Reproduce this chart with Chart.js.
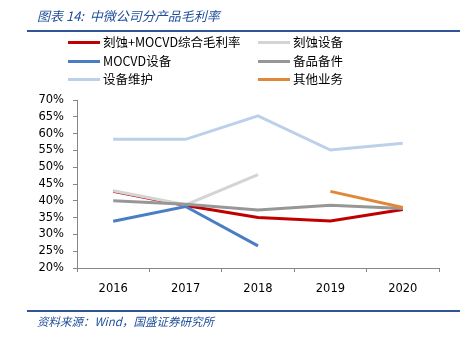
<!DOCTYPE html>
<html>
<head>
<meta charset="utf-8">
<script src="https://cdn.jsdelivr.net/npm/chart.js@4/dist/chart.umd.min.js"></script>
<style>
  body { margin: 0; width: 464px; height: 340px; background: #fff; position: relative; overflow: hidden;
         font-family: "Noto Sans CJK SC", "DejaVu Sans", sans-serif; }
  #title { position: absolute; left: 37px; top: 6px; font-size: 13px; font-style: italic; color: #1F4E9A; }
  .rule { position: absolute; left: 27px; width: 433px; height: 2px; background: #2F5597; }
  #legend { position: absolute; left: 68px; top: 33px; }
  .item { position: absolute; white-space: nowrap; font-size: 12.5px; color: #000; line-height: 18px; }
  .item span { display: inline-block; width: 32px; height: 3px; vertical-align: middle; margin-right: 3px; margin-top: -2px; }
  #source { position: absolute; left: 37px; top: 313px; font-size: 11.5px; font-style: italic; color: #1F4E9A; }
  #chart { position: absolute; left: 0; top: 0; }
</style>
</head>
<body>
<canvas id="chart" width="464" height="340"></canvas>
<div id="title">图表 14:&nbsp; 中微公司分产品毛利率</div>
<div class="rule" style="top:30px"></div>
<div id="legend"></div>
<div class="rule" style="top:310px"></div>
<div id="source">资料来源：Wind，国盛证券研究所</div>
<script>
// data (gross margin, %)
let years = ['2016', '2017', '2018', '2019', '2020'];
let combined = [42.8, 38.6, 35.0, 34.0, 37.4];
let etching = [43.0, 38.8, 47.8, null, null];
let mocvd = [33.9, 38.3, 26.6, null, null];
let parts = [40.0, 39.0, 37.3, 38.7, 37.7];
let service = [58.3, 58.3, 65.3, 55.1, 57.1];
let other = [null, null, null, 42.8, 38.0];
let seriesNames = ['刻蚀+MOCVD综合毛利率', '刻蚀设备', 'MOCVD设备', '备品备件', '设备维护', '其他业务'];
let seriesColors = ['#C00000', '#D4D4D4', '#4A7EC4', '#979797', '#BDD0EA', '#E0883A'];

let seriesData = [combined, etching, mocvd, parts, service, other];

// legend: two columns, three rows
let legend = document.getElementById('legend');
seriesNames.forEach((name, i) => {
    let div = document.createElement('div');
    div.className = 'item';
    div.style.left = (i % 2 === 0 ? 0 : 190) + 'px';
    div.style.top = (Math.floor(i / 2) * 18.5) + 'px';
    div.innerHTML = '<span style="background:' + seriesColors[i] + '"></span>' + name;
    legend.appendChild(div);
});

let ctx = document.getElementById('chart').getContext('2d');
let myChart = new Chart(ctx, {
    type: 'line',
    data: {
        labels: years,
        datasets: seriesData.map((d, i) => ({
            label: seriesNames[i],
            data: d,
            borderColor: seriesColors[i],
            backgroundColor: seriesColors[i],
            borderWidth: 3,
            pointRadius: 0,
            tension: 0,
            fill: false,
            spanGaps: false,
            order: 6 - i
        }))
    },
    options: {
        responsive: false,
        animation: false,
        maintainAspectRatio: false,
        layout: { padding: { left: 0, right: 25, top: 100, bottom: 40 } },
        plugins: { legend: { display: false }, tooltip: { enabled: false } },
        scales: {
            x: {
                offset: true,
                grid: { offset: true, drawOnChartArea: false, color: '#868686', tickLength: 4 },
                border: { color: '#868686' },
                ticks: { color: '#000', padding: 10, font: { family: 'DejaVu Sans', size: 11.5 } },
                afterFit: (scale) => { scale.height = 32; }
            },
            y: {
                min: 20, max: 70,
                grid: { drawOnChartArea: false, color: '#868686', tickLength: 4 },
                border: { color: '#868686' },
                ticks: {
                    stepSize: 5, color: '#000', padding: 9,
                    font: { family: 'DejaVu Sans', size: 11.5 },
                    callback: (v) => v + '%'
                },
                afterFit: (scale) => { scale.width = 77; }
            }
        }
    }
});
</script>
</body>
</html>
